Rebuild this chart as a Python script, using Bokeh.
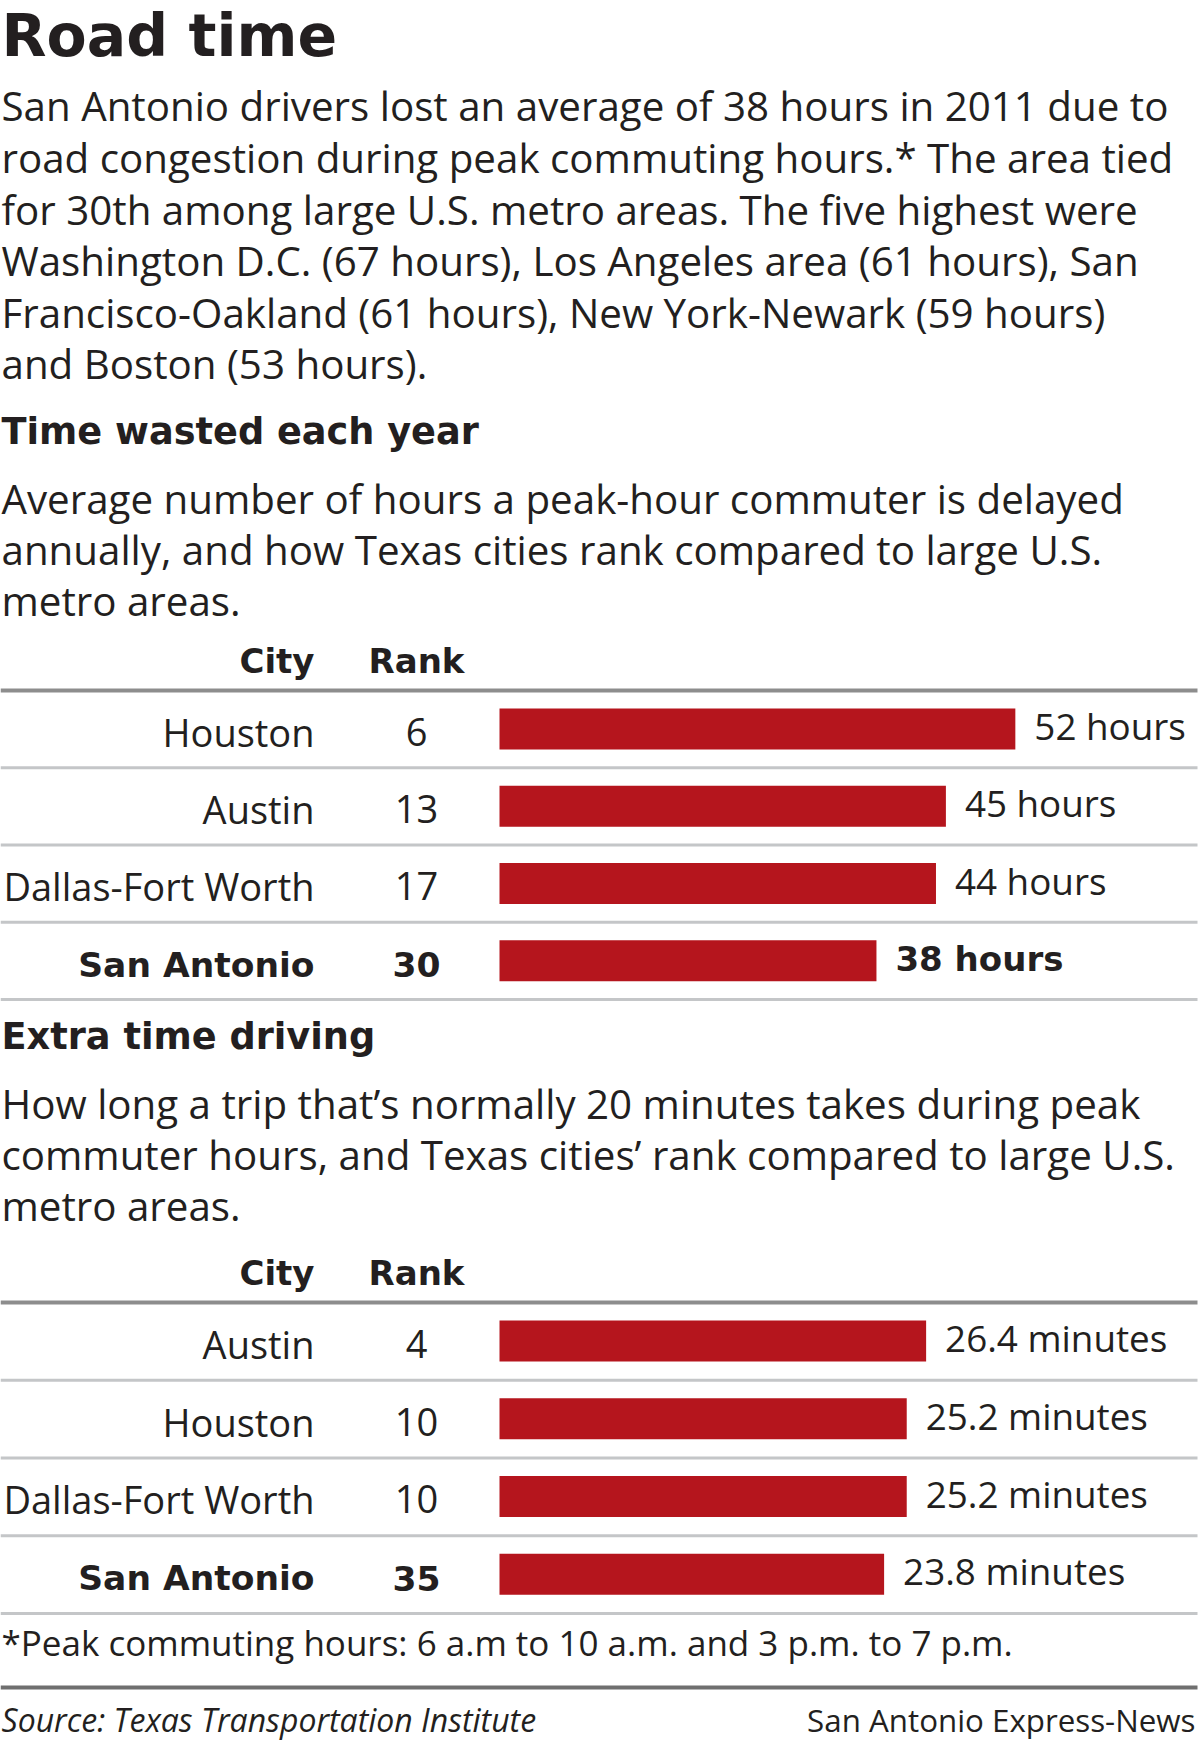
from bokeh.plotting import figure
from bokeh.models import Range1d, ColumnDataSource
from bokeh.core.properties import value
from bokeh.embed import file_html
from bokeh.resources import INLINE

# ---------------- data ----------------
title = "Road time"
intro = [
    "San Antonio drivers lost an average of 38 hours in 2011 due to",
    "road congestion during peak commuting hours.* The area tied",
    "for 30th among large U.S. metro areas. The five highest were",
    "Washington D.C. (67 hours), Los Angeles area (61 hours), San",
    "Francisco-Oakland (61 hours), New York-Newark (59 hours)",
    "and Boston (53 hours).",
]
head1 = "Time wasted each year"
sub1 = [
    "Average number of hours a peak-hour commuter is delayed",
    "annually, and how Texas cities rank compared to large U.S.",
    "metro areas.",
]
cities1 = ["Houston", "Austin", "Dallas-Fort Worth", "San Antonio"]
ranks1 = [6, 13, 17, 30]
hours1 = [52, 45, 44, 38]

head2 = "Extra time driving"
sub2 = [
    "How long  a trip that\u2019s normally 20 minutes takes during peak",
    "commuter hours, and Texas cities\u2019 rank compared to large U.S.",
    "metro areas.",
]
cities2 = ["Austin", "Houston", "Dallas-Fort Worth", "San Antonio"]
ranks2 = [4, 10, 10, 35]
minutes2 = [26.4, 25.2, 25.2, 23.8]

footnote = "*Peak commuting hours: 6 a.m to 10 a.m. and 3 p.m. to 7 p.m."
source_txt = "Source: Texas Transportation Institute"
credit_txt = "San Antonio Express-News"

# ---------------- layout ----------------
W, H = 1200, 1743
BODY = "Open Sans"
HEAVY = "DejaVu Sans"
TXT = "#231f20"
RED = "#b5151d"
K = 0.375  # baseline correction (fraction of font size)

p = figure(width=W, height=H, output_backend="svg", toolbar_location=None,
           x_range=Range1d(0, W), y_range=Range1d(H, 0),
           x_axis_type=None, y_axis_type=None, min_border=0,
           outline_line_color=None)
p.grid.visible = False
p.background_fill_color = "white"
p.border_fill_color = "white"

BAR_X0 = 499
PX_HOUR = 9.92
PX_MIN = 16.16
p.extra_x_ranges = {
    "hours": Range1d(-BAR_X0 / PX_HOUR, (W - BAR_X0) / PX_HOUR),
    "minutes": Range1d(-BAR_X0 / PX_MIN, (W - BAR_X0) / PX_MIN),
}


def txt(x, y, t, size, font=BODY, style="normal", align="left", color=TXT,
        x_range_name="default", x_offset=0):
    p.text(x=[x], y=[y - K * size], text=[t], text_font=value(font),
           text_font_size=f"{size}px", text_font_style=style, text_color=color,
           text_align=align, text_baseline="alphabetic",
           x_range_name=x_range_name, x_offset=x_offset)


def hline(y, color, width):
    p.segment(x0=[0], y0=[y], x1=[1197], y1=[y], line_color=color, line_width=width)


txt(1, 57.5, title, 58.5, font=HEAVY, style="bold")
for i, line in enumerate(intro):
    txt(1, 120.5 + i * 51.6, line, 40.3)


def section(head, sub, head_y, cities, ranks, vals, unit, rng, top_y, step, bold_val):
    txt(1, head_y, head, 36.7, font=HEAVY, style="bold")
    for i, line in enumerate(sub):
        txt(1, head_y + 68 + i * 51.3, line, 40.3)
    hy = top_y - 17
    txt(314, hy, "City", 34, font=HEAVY, style="bold", align="right")
    txt(416, hy, "Rank", 34, font=HEAVY, style="bold", align="center")
    hline(top_y, "#8d8d8d", 4)
    ys = [top_y + 38.5 + i * step for i in range(len(cities))]
    for i in range(len(cities)):
        hline(top_y + (i + 1) * step, "#c4c6c8", 3)
    src = ColumnDataSource(dict(y=ys, v=vals,
                                lab=[f"{v:g} {unit}" for v in vals]))
    p.hbar(y="y", left=0, right="v", height=41, source=src, x_range_name=rng,
           fill_color=RED, line_color=None)
    for i in range(len(cities)):
        last = i == len(cities) - 1
        if last:
            txt(314, ys[i] + 17, cities[i], 34.5, font=HEAVY, style="bold", align="right")
            txt(416, ys[i] + 17, str(ranks[i]), 34.5, font=HEAVY, style="bold", align="center")
        else:
            txt(314, ys[i] + 17, cities[i], 38, align="right")
            txt(416, ys[i] + 17, str(ranks[i]), 38, align="center")
        big = last and bold_val
        if big:
            txt(vals[i], ys[i] + 11, src.data["lab"][i], 34, font=HEAVY, style="bold",
                x_range_name=rng, x_offset=19)
        else:
            txt(vals[i], ys[i] + 11, src.data["lab"][i], 36.8,
                x_range_name=rng, x_offset=19)


section(head1, sub1, 445, cities1, ranks1, hours1, "hours", "hours", 690, 77.25, True)
section(head2, sub2, 1050, cities2, ranks2, minutes2, "minutes", "minutes", 1302, 77.75, False)

txt(1, 1655, footnote, 35)
hline(1687, "#6f6f6f", 4)
txt(1, 1731, source_txt, 32, style="italic")
txt(1195, 1731, credit_txt, 31.3, align="right")

open("out.html", "w").write(file_html(p, INLINE))
